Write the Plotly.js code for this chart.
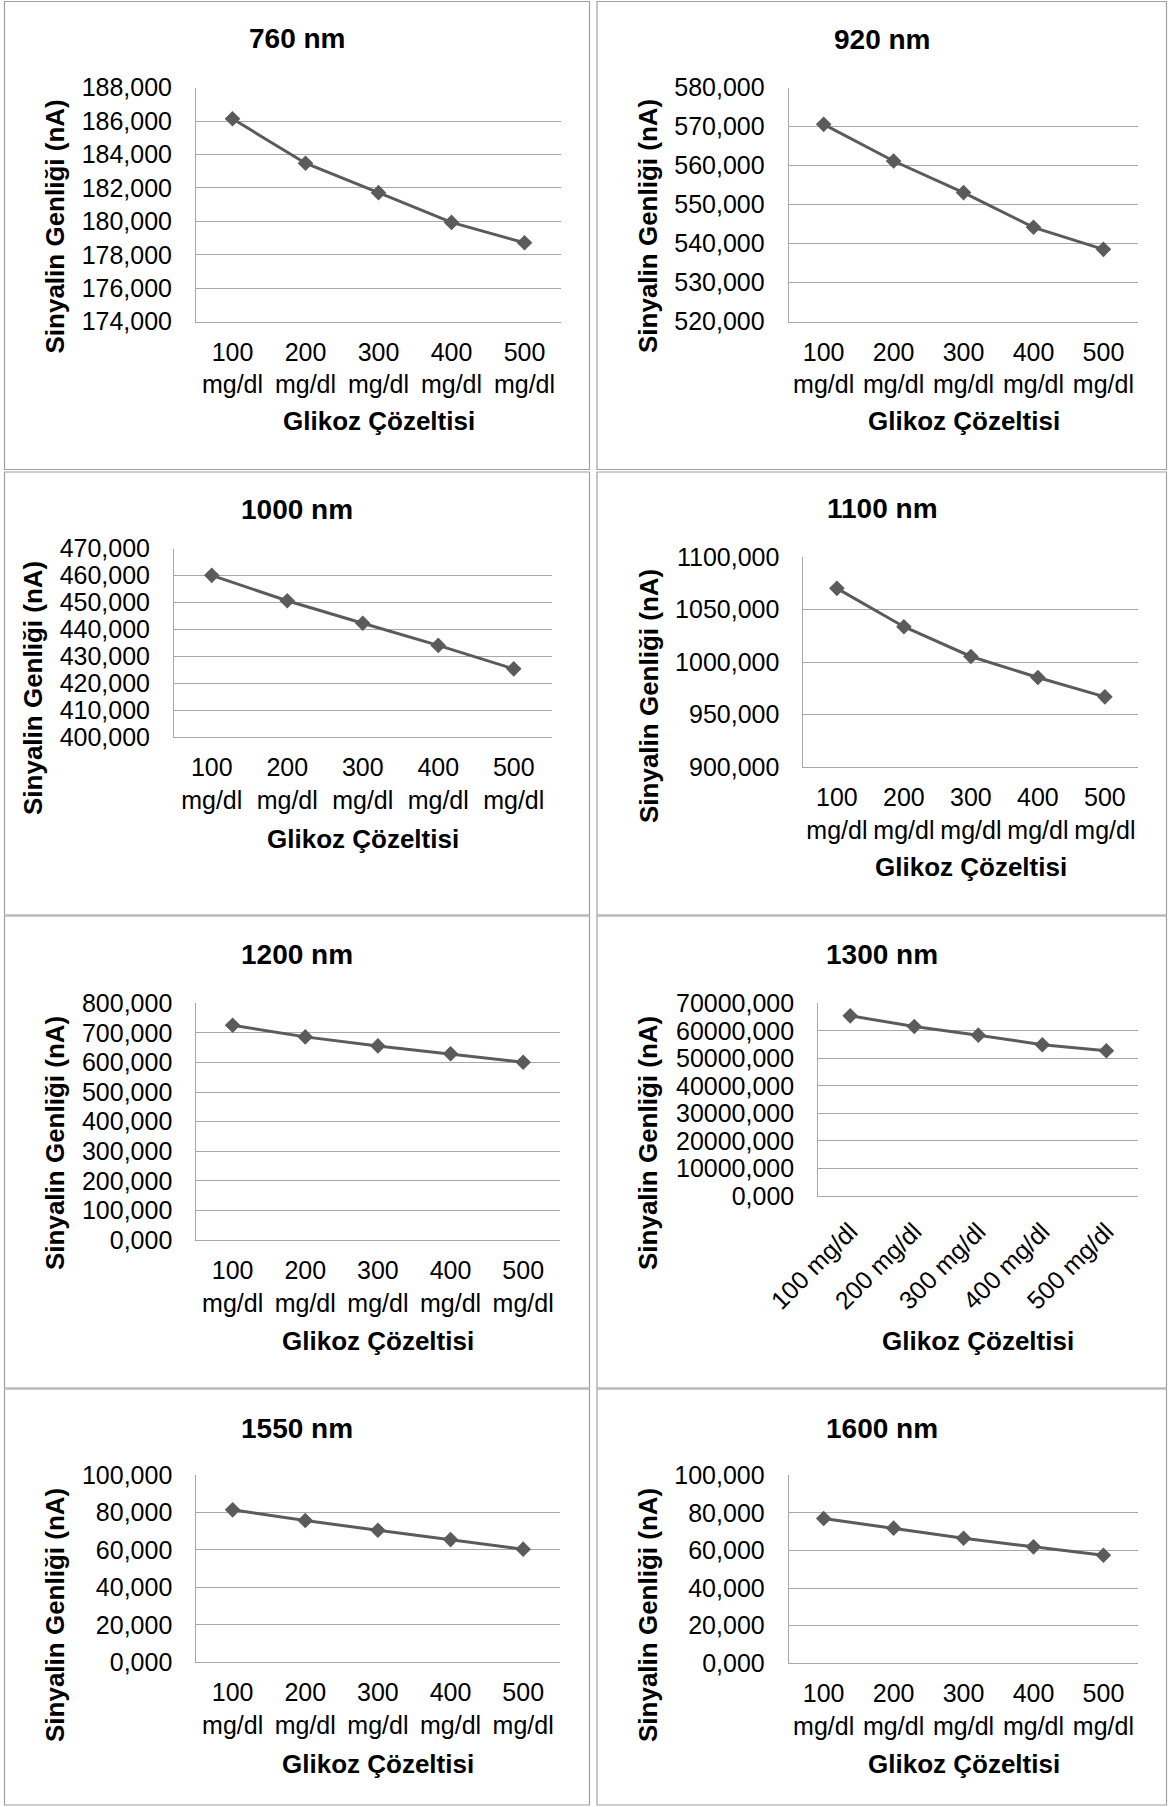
<!DOCTYPE html>
<html>
<head>
<meta charset="utf-8">
<script src="https://cdn.plot.ly/plotly-3.0.1.min.js"></script>
<style>
  html, body { margin: 0; padding: 0; background: #ffffff; }
  #chart { width: 1169px; height: 1807px; }
</style>
</head>
<body>
<div id="chart"></div>
<script>
// Glucose concentrations (categories) and their two-line tick labels
const categories = ['100 mg/dl', '200 mg/dl', '300 mg/dl', '400 mg/dl', '500 mg/dl'];
const stackedTickText = ['100<br>mg/dl', '200<br>mg/dl', '300<br>mg/dl', '400<br>mg/dl', '500<br>mg/dl'];

// Panel titles (wavelength)
const wavelengths = ['760 nm', '920 nm', '1000 nm', '1100 nm', '1200 nm', '1300 nm', '1550 nm', '1600 nm'];

// Signal amplitude (nA) per glucose solution, one array per wavelength
const signal760  = [186.14, 183.48, 181.72, 179.94, 178.72];
const signal920  = [570.6, 561.2, 553.1, 544.2, 538.55];
const signal1000 = [460.1, 450.7, 442.35, 434.1, 425.4];
const signal1100 = [1070.4, 1033.8, 1005.4, 985.4, 966.9];
const signal1200 = [725.9, 686.5, 656.0, 629.3, 601.0];
const signal1300 = [65450, 61570, 58430, 54960, 52780];
const signal1550 = [81.4, 75.7, 70.5, 65.5, 60.4];
const signal1600 = [77.0, 71.9, 66.55, 61.95, 57.5];

const yTitleText = 'Sinyalin Genliği (nA)';
const xTitleText = 'Glikoz Çözeltisi';

const series = [signal760, signal920, signal1000, signal1100, signal1200, signal1300, signal1550, signal1600];

// Axis ranges and tick steps for each panel
const yRanges = [[174, 188], [520, 580], [400, 470], [900, 1100], [0, 800], [0, 70000], [0, 100], [0, 100]];
const yDticks = [2, 10, 10, 50, 100, 10000, 20, 20];

// Page geometry (pixels): plot box [left, right, top, bottom], frame box, label anchors
const W = 1169, H = 1807;
const panels = [
  { plot: [196, 561, 87.7, 321.7],       frame: [4.5, 589.5, 1.5, 469.5],   title: [297, 38.5],  yTitle: [55, 226.5],  xTitle: [378.5, 421] },
  { plot: [788.7, 1138.4, 87.7, 321.7],  frame: [597, 1166.5, 1.5, 469.5],  title: [882, 39.5],  yTitle: [648, 226],   xTitle: [963.5, 421] },
  { plot: [174, 551.5, 548.7, 737.3],    frame: [4.5, 589.5, 472, 915],     title: [297, 510],   yTitle: [33, 688],    xTitle: [362.8, 839] },
  { plot: [803.4, 1138.4, 557.3, 767],   frame: [597, 1166.5, 472, 915],    title: [882, 509],   yTitle: [649, 696],   xTitle: [971, 867] },
  { plot: [196.3, 559.5, 1003.3, 1240],  frame: [4.5, 589.5, 916, 1388],    title: [297, 955],   yTitle: [55, 1143],   xTitle: [378, 1341] },
  { plot: [818.2, 1138.4, 1003.3, 1196], frame: [597, 1166.5, 916, 1388],   title: [882, 955],   yTitle: [648, 1143],  xTitle: [978.3, 1341], rotated: true },
  { plot: [196.3, 559.5, 1475, 1662.3],  frame: [4.5, 589.5, 1389, 1805],   title: [297, 1428],  yTitle: [55, 1615],   xTitle: [378, 1764] },
  { plot: [788.7, 1138.4, 1475.3, 1663.3], frame: [597, 1166.5, 1389, 1805], title: [882, 1428], yTitle: [648, 1615],  xTitle: [963.5, 1764] }
];

const px = x => x / W;
const py = y => 1 - y / H;

const FONT = 'Liberation Sans, Arial, sans-serif';
const LINE_COLOR = '#5b5b5b';
const GRID_COLOR = '#a8a8a8';
const FRAME_COLOR = '#a0a0a0';

const traces = [];
const layout = {
  width: W,
  height: H,
  margin: { l: 0, r: 0, t: 0, b: 0, pad: 0 },
  paper_bgcolor: '#ffffff',
  plot_bgcolor: '#ffffff',
  showlegend: false,
  separators: ',.',
  font: { family: FONT, color: '#000000' },
  annotations: [],
  shapes: []
};

panels.forEach((p, i) => {
  const n = i + 1;
  const xa = 'xaxis' + n, ya = 'yaxis' + n;

  traces.push({
    type: 'scatter',
    mode: 'lines+markers',
    x: categories,
    y: series[i],
    xaxis: 'x' + n,
    yaxis: 'y' + n,
    line: { color: LINE_COLOR, width: 3 },
    marker: { symbol: 'diamond', size: 12, color: LINE_COLOR },
    cliponaxis: false,
    hoverinfo: 'skip'
  });

  layout[xa] = {
    domain: [px(p.plot[0]), px(p.plot[1])],
    anchor: 'y' + n,
    type: 'category',
    range: [-0.5, 4.5],
    showgrid: false,
    zeroline: false,
    showline: true,
    linecolor: GRID_COLOR,
    linewidth: 1,
    ticks: '',
    tickmode: 'array',
    tickvals: categories,
    ticktext: p.rotated ? categories : stackedTickText,
    tickangle: p.rotated ? -45 : 0,
    ticklabelstandoff: p.rotated ? 10 : 8,
    tickfont: { family: FONT, size: 25, color: '#000000' },
    fixedrange: true
  };

  layout[ya] = {
    domain: [py(p.plot[3]), py(p.plot[2])],
    anchor: 'x' + n,
    range: yRanges[i],
    tick0: yRanges[i][0],
    dtick: yDticks[i],
    tickformat: '.3f',
    showgrid: true,
    gridcolor: GRID_COLOR,
    gridwidth: 1,
    zeroline: false,
    showline: true,
    linecolor: GRID_COLOR,
    linewidth: 1,
    ticks: '',
    ticklabelstandoff: 18,
    tickfont: { family: FONT, size: 25, color: '#000000' },
    fixedrange: true
  };

  // panel frame
  layout.shapes.push({
    type: 'rect', xref: 'paper', yref: 'paper', layer: 'below',
    x0: px(p.frame[0]), x1: px(p.frame[1]),
    y0: py(p.frame[3]), y1: py(p.frame[2]),
    line: { color: FRAME_COLOR, width: 1.2 },
    fillcolor: 'rgba(0,0,0,0)'
  });

  // panel title
  layout.annotations.push({
    xref: 'paper', yref: 'paper', x: px(p.title[0]), y: py(p.title[1]),
    xanchor: 'center', yanchor: 'middle', showarrow: false,
    text: '<b>' + wavelengths[i] + '</b>',
    font: { family: FONT, size: 28, color: '#000000' }
  });

  // y-axis title
  layout.annotations.push({
    xref: 'paper', yref: 'paper', x: px(p.yTitle[0]), y: py(p.yTitle[1]),
    xanchor: 'center', yanchor: 'middle', showarrow: false, textangle: -90,
    text: '<b>' + yTitleText + '</b>',
    font: { family: FONT, size: 26, color: '#000000' }
  });

  // x-axis title
  layout.annotations.push({
    xref: 'paper', yref: 'paper', x: px(p.xTitle[0]), y: py(p.xTitle[1]),
    xanchor: 'center', yanchor: 'middle', showarrow: false,
    text: '<b>' + xTitleText + '</b>',
    font: { family: FONT, size: 26, color: '#000000' }
  });
});

Plotly.newPlot('chart', traces, layout, { staticPlot: true, displayModeBar: false });
</script>
</body>
</html>
